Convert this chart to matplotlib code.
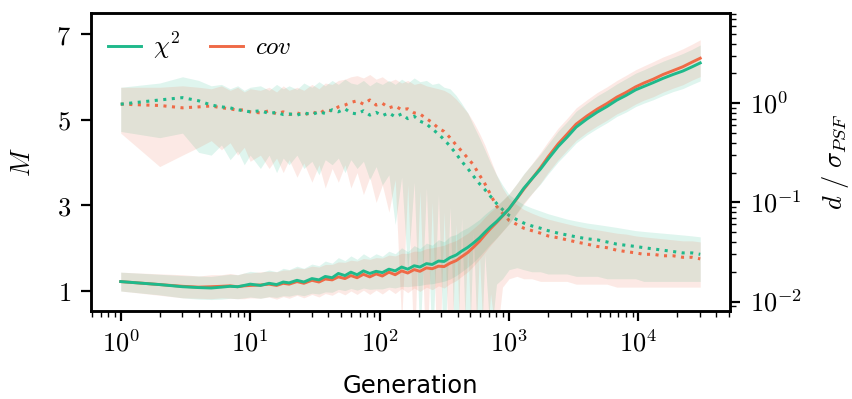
import numpy as np
import matplotlib
matplotlib.use("Agg")
import matplotlib.pyplot as plt
from matplotlib.ticker import FixedLocator, FuncFormatter, LogLocator, NullFormatter

plt.rcParams['mathtext.fontset'] = 'cm'
plt.rcParams['font.family'] = ['DejaVu Sans']

# generations sampled from the curves
gen = [1, 2, 3, 4, 5, 6, 7, 8, 9, 10,
       12, 14, 16, 18, 20, 23, 26, 30, 34, 38,
       43, 48, 54, 60, 67, 75, 84, 94, 105, 118,
       132, 148, 165, 185, 205, 230, 255, 285, 315, 350,
       390, 430, 480, 530, 590, 650, 720, 800, 890, 1000,
       1150, 1300, 1500, 1750, 2000, 2400, 2800, 3300, 4000, 4800,
       5700, 6800, 8000, 9500, 11000, 13000, 15500, 18500, 22000, 26000,
       30000]

# M (left axis), solid lines
M_chi = [1.22, 1.15, 1.10, 1.08, 1.07, 1.09, 1.11, 1.10, 1.13, 1.16,
         1.13, 1.18, 1.15, 1.21, 1.19, 1.25, 1.21, 1.29, 1.26, 1.34,
         1.31, 1.41, 1.36, 1.44, 1.38, 1.47, 1.41, 1.46, 1.43, 1.51,
         1.47, 1.56, 1.51, 1.59, 1.56, 1.64, 1.62, 1.70, 1.69, 1.78,
         1.84, 1.93, 2.02, 2.12, 2.24, 2.37, 2.50, 2.62, 2.76, 2.92,
         3.17, 3.40, 3.62, 3.85, 4.08, 4.38, 4.59, 4.83, 5.02, 5.18,
         5.31, 5.46, 5.57, 5.70, 5.78, 5.87, 5.97, 6.06, 6.14, 6.24,
         6.33]
M_cov = [1.22, 1.15, 1.11, 1.09, 1.10, 1.11, 1.12, 1.10, 1.12, 1.13,
         1.14, 1.16, 1.13, 1.18, 1.16, 1.22, 1.18, 1.25, 1.21, 1.28,
         1.26, 1.33, 1.29, 1.36, 1.31, 1.39, 1.33, 1.40, 1.35, 1.44,
         1.38, 1.47, 1.42, 1.50, 1.46, 1.54, 1.52, 1.58, 1.57, 1.65,
         1.71, 1.80, 1.90, 2.02, 2.16, 2.31, 2.46, 2.60, 2.75, 2.92,
         3.16, 3.38, 3.62, 3.88, 4.13, 4.44, 4.66, 4.90, 5.09, 5.25,
         5.38, 5.53, 5.64, 5.77, 5.86, 5.95, 6.06, 6.15, 6.24, 6.35,
         6.44]
M_chi_sd = [0.22, 0.24, 0.26, 0.27, 0.27, 0.28, 0.28, 0.28, 0.29, 0.30,
            0.30, 0.31, 0.30, 0.32, 0.31, 0.33, 0.32, 0.34, 0.33, 0.36,
            0.34, 0.37, 0.35, 0.38, 0.36, 0.40, 0.37, 0.41, 0.38, 0.42,
            0.40, 0.45, 0.41, 0.47, 0.43, 0.48, 0.45, 0.50, 0.46, 0.50,
            0.48, 0.48, 0.46, 0.45, 0.43, 0.42, 0.40, 0.38, 0.36, 0.35,
            0.34, 0.34, 0.34, 0.35, 0.35, 0.36, 0.36, 0.37, 0.37, 0.38,
            0.38, 0.38, 0.39, 0.39, 0.39, 0.40, 0.40, 0.40, 0.41, 0.41,
            0.42]
M_cov_sd = [0.22, 0.25, 0.27, 0.26, 0.28, 0.27, 0.29, 0.28, 0.30, 0.29,
            0.31, 0.30, 0.32, 0.31, 0.33, 0.32, 0.34, 0.33, 0.35, 0.34,
            0.36, 0.35, 0.38, 0.36, 0.39, 0.37, 0.41, 0.38, 0.42, 0.40,
            0.44, 0.41, 0.46, 0.43, 0.47, 0.45, 0.49, 0.46, 0.50, 0.48,
            0.47, 0.46, 0.45, 0.44, 0.42, 0.41, 0.39, 0.37, 0.36, 0.35,
            0.35, 0.35, 0.35, 0.36, 0.36, 0.37, 0.37, 0.38, 0.38, 0.39,
            0.39, 0.39, 0.40, 0.40, 0.40, 0.41, 0.41, 0.41, 0.42, 0.42,
            0.43]

# d / sigma_PSF (right axis), dotted lines
d_chi = [0.98, 1.08, 1.14, 1.06, 0.96, 0.92, 0.90, 0.86, 0.84, 0.82,
         0.84, 0.79, 0.81, 0.77, 0.78, 0.76, 0.80, 0.77, 0.82, 0.79,
         0.86, 0.82, 0.88, 0.80, 0.78, 0.84, 0.76, 0.81, 0.75, 0.80,
         0.73, 0.78, 0.70, 0.74, 0.66, 0.62, 0.55, 0.49, 0.43, 0.37,
         0.31, 0.26, 0.22, 0.185, 0.155, 0.135, 0.115, 0.098, 0.085, 0.074,
         0.067, 0.062, 0.058, 0.055, 0.052, 0.049, 0.047, 0.045, 0.043, 0.042,
         0.040, 0.038, 0.037, 0.036, 0.035, 0.034, 0.033, 0.032, 0.031, 0.031,
         0.030]
d_cov = [0.98, 0.95, 0.90, 0.92, 0.94, 0.90, 0.88, 0.85, 0.86, 0.82,
         0.80, 0.84, 0.78, 0.82, 0.77, 0.80, 0.76, 0.82, 0.78, 0.86,
         0.84, 0.92, 0.96, 1.02, 1.06, 0.98, 1.08, 0.96, 1.00, 0.90,
         0.94, 0.86, 0.88, 0.80, 0.78, 0.70, 0.64, 0.56, 0.52, 0.45,
         0.38, 0.33, 0.28, 0.24, 0.19, 0.155, 0.12, 0.092, 0.078, 0.066,
         0.060, 0.055, 0.052, 0.049, 0.046, 0.044, 0.042, 0.040, 0.038, 0.036,
         0.035, 0.033, 0.032, 0.031, 0.030, 0.030, 0.029, 0.029, 0.028, 0.028,
         0.027]
d_chi_hi = [1.45, 1.60, 1.85, 1.70, 1.50, 1.55, 1.40, 1.50, 1.35, 1.45,
            1.50, 1.35, 1.55, 1.40, 1.50, 1.38, 1.60, 1.45, 1.65, 1.50,
            1.70, 1.55, 1.75, 1.60, 1.55, 1.70, 1.50, 1.65, 1.55, 1.70,
            1.55, 1.75, 1.60, 1.80, 1.65, 1.70, 1.55, 1.60, 1.45, 1.40,
            1.20, 1.00, 0.80, 0.60, 0.45, 0.34, 0.25, 0.19, 0.15, 0.12,
            0.105, 0.095, 0.088, 0.082, 0.077, 0.072, 0.068, 0.065, 0.062, 0.060,
            0.058, 0.056, 0.054, 0.052, 0.051, 0.050, 0.049, 0.048, 0.047, 0.046,
            0.045]
d_chi_lo = [0.52, 0.45, 0.50, 0.32, 0.30, 0.38, 0.27, 0.33, 0.24, 0.30,
            0.22, 0.30, 0.20, 0.28, 0.24, 0.30, 0.22, 0.26, 0.19, 0.27,
            0.24, 0.28, 0.20, 0.27, 0.22, 0.26, 0.17, 0.23, 0.15, 0.19,
            0.06, 0.18, 0.02, 0.16, 0.004, 0.14, 0.003, 0.12, 0.002, 0.09,
            0.001, 0.07, 0.001, 0.05, 0.001, 0.03, 0.004, 0.015, 0.017, 0.021,
            0.022, 0.021, 0.020, 0.020, 0.019, 0.019, 0.019, 0.018, 0.018, 0.018,
            0.017, 0.017, 0.017, 0.017, 0.016, 0.016, 0.016, 0.016, 0.016, 0.016,
            0.016]
d_cov_hi = [1.45, 1.45, 1.50, 1.45, 1.40, 1.50, 1.35, 1.45, 1.30, 1.40,
            1.35, 1.45, 1.30, 1.50, 1.35, 1.45, 1.35, 1.55, 1.40, 1.60,
            1.55, 1.70, 1.75, 1.85, 1.90, 1.80, 1.95, 1.75, 1.85, 1.65,
            1.75, 1.60, 1.70, 1.55, 1.60, 1.50, 1.45, 1.40, 1.35, 1.25,
            1.10, 0.95, 0.80, 0.65, 0.50, 0.38, 0.27, 0.19, 0.14, 0.11,
            0.095, 0.085, 0.078, 0.072, 0.068, 0.064, 0.061, 0.058, 0.055, 0.053,
            0.051, 0.049, 0.048, 0.046, 0.045, 0.044, 0.043, 0.042, 0.041, 0.041,
            0.040]
d_cov_lo = [0.50, 0.23, 0.30, 0.36, 0.42, 0.34, 0.40, 0.30, 0.36, 0.26,
            0.30, 0.22, 0.28, 0.20, 0.27, 0.18, 0.25, 0.16, 0.24, 0.14,
            0.22, 0.16, 0.24, 0.14, 0.20, 0.12, 0.18, 0.10, 0.15, 0.08,
            0.17, 0.006, 0.15, 0.003, 0.13, 0.002, 0.10, 0.001, 0.08, 0.001,
            0.06, 0.001, 0.04, 0.001, 0.03, 0.002, 0.012, 0.004, 0.014, 0.017,
            0.018, 0.017, 0.017, 0.016, 0.016, 0.016, 0.016, 0.015, 0.015, 0.015,
            0.015, 0.014, 0.014, 0.014, 0.014, 0.014, 0.014, 0.014, 0.014, 0.014,
            0.014]

c_chi = '#1fb98b'
c_cov = '#ef6a47'

g = np.array(gen, dtype=float)

fig = plt.figure(figsize=(8.53, 3.99), dpi=100)
ax = fig.add_axes([0.1063, 0.2206, 0.7497, 0.7461])
ax2 = ax.twinx()

# M bands and lines
for m, sd, c in [(M_chi, M_chi_sd, c_chi), (M_cov, M_cov_sd, c_cov)]:
    m = np.array(m); sd = np.array(sd)
    ax.fill_between(g, m - sd, m + sd, color=c, alpha=0.14, lw=0)
ax.plot(g, M_cov, color=c_cov, lw=2.1, label=r'$cov$', zorder=3)
ax.plot(g, M_chi, color=c_chi, lw=2.1, label=r'$\chi^2$', zorder=4)

# d bands and dotted lines
ax2.fill_between(g, d_chi_lo, d_chi_hi, color=c_chi, alpha=0.14, lw=0)
ax2.fill_between(g, d_cov_lo, d_cov_hi, color=c_cov, alpha=0.14, lw=0)
ax2.plot(g, d_cov, color=c_cov, lw=2.2, ls=(0, (1, 1.8)))
ax2.plot(g, d_chi, color=c_chi, lw=2.2, ls=(0, (1, 1.8)))

ax.set_xscale('log')
ax.set_xlim(0.586, 51100)
ax.set_ylim(0.533, 7.49)
ax2.set_yscale('log')
ax2.set_ylim(0.00805, 8.08)

ax.yaxis.set_major_locator(FixedLocator([1, 3, 5, 7]))
ax.yaxis.set_major_formatter(FuncFormatter(lambda v, p: r'$%d$' % v))
ax.xaxis.set_major_locator(LogLocator(base=10, numticks=10))
ax.xaxis.set_minor_locator(LogLocator(base=10, subs=np.arange(2, 10), numticks=20))
ax.xaxis.set_minor_formatter(NullFormatter())
ax.xaxis.set_major_formatter(FuncFormatter(lambda v, p: r'$10^{%d}$' % round(np.log10(v))))
ax2.yaxis.set_major_locator(FixedLocator([0.01, 0.1, 1]))
ax2.yaxis.set_minor_locator(LogLocator(base=10, subs=np.arange(2, 10), numticks=20))
ax2.yaxis.set_minor_formatter(NullFormatter())
ax2.yaxis.set_major_formatter(FuncFormatter(lambda v, p: r'$10^{%d}$' % round(np.log10(v))))

for a in (ax, ax2):
    for s in a.spines.values():
        s.set_linewidth(1.8)
    a.tick_params(which='major', length=7, width=1.6, labelsize=19, direction='out', pad=7)
    a.tick_params(which='minor', length=4, width=1.0, direction='out')

ax.set_xlabel('Generation', fontsize=17.5, labelpad=12)
ax.set_ylabel(r'$M$', fontsize=19, labelpad=15)
ax2.set_ylabel(r'$d\ /\ \sigma_{PSF}$', fontsize=19, labelpad=13)

leg = ax.legend(handles=ax.get_lines()[::-1], loc='upper left', ncol=2, frameon=False,
                fontsize=18, handlelength=1.3, columnspacing=1.2, handletextpad=0.5,
                borderaxespad=0.3, bbox_to_anchor=(0.0, 1.0))
ax.set_zorder(ax2.get_zorder() + 1)
ax.patch.set_visible(False)

fig.savefig('out.png', dpi=100)
